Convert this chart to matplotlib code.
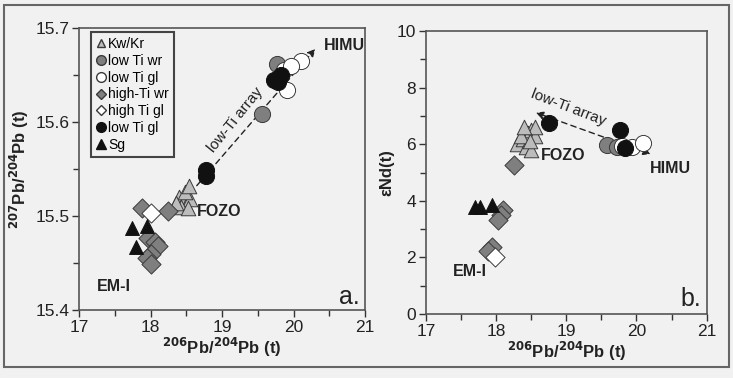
import matplotlib.pyplot as plt
from matplotlib.lines import Line2D
from matplotlib.patches import Rectangle
from matplotlib.ticker import MultipleLocator

plt.rcParams['font.family'] = ['Liberation Sans', 'DejaVu Sans']

BG = '#f1f1f1'
GREY = '#7f7f7f'
LIGHT = '#bcbcbc'
EDGE = '#3a3a3a'

# ---- panel a: 206Pb/204Pb vs 207Pb/204Pb ----
a_sg_x = [17.74, 17.95, 17.79]
a_sg_y = [15.487, 15.489, 15.467]
a_hiwr_x = [17.88, 18.25, 17.97, 18.06, 18.10, 18.01, 17.95, 18.00]
a_hiwr_y = [15.508, 15.505, 15.477, 15.472, 15.468, 15.460, 15.455, 15.449]
a_higl_x = [18.00]
a_higl_y = [15.503]
a_kw_x = [18.40, 18.45, 18.50, 18.55, 18.48, 18.53, 18.42, 18.52, 18.36]
a_kw_y = [15.520, 15.515, 15.512, 15.518, 15.525, 15.532, 15.510, 15.508, 15.514]
a_lowr_x = [19.56, 19.77]
a_lowr_y = [15.609, 15.662]
a_lowgl_x = [19.86, 20.10, 19.91, 19.96]
a_lowgl_y = [15.655, 15.665, 15.634, 15.660]
a_lowbk_x = [18.77, 18.77, 19.72, 19.82, 19.78]
a_lowbk_y = [15.549, 15.543, 15.645, 15.650, 15.643]
a_array_x = [18.62, 20.33]
a_array_y = [15.530, 15.680]

# ---- panel b: 206Pb/204Pb vs eNd ----
b_sg_x = [17.70, 17.77, 17.94]
b_sg_y = [3.80, 3.80, 3.85]
b_hiwr_x = [18.25, 18.10, 18.07, 18.03, 17.94, 17.89]
b_hiwr_y = [5.27, 3.67, 3.50, 3.32, 2.38, 2.24]
b_higl_x = [17.99]
b_higl_y = [2.03]
b_kw_x = [18.30, 18.38, 18.45, 18.50, 18.55, 18.42, 18.50, 18.35, 18.48, 18.55, 18.40]
b_kw_y = [6.00, 6.20, 6.40, 6.50, 6.30, 5.90, 5.80, 6.30, 6.10, 6.60, 6.60]
b_lowr_x = [19.58, 19.72]
b_lowr_y = [5.97, 5.92]
b_lowgl_x = [19.93, 20.10, 19.80]
b_lowgl_y = [5.91, 6.03, 5.95]
b_lowbk_x = [18.75, 19.77, 19.84]
b_lowbk_y = [6.74, 6.50, 5.86]
b_array_x = [18.53, 20.24]
b_array_y = [7.15, 5.62]


def draw_points(ax, sg, hiwr, higl, kw, lowr, lowgl, lowbk):
    ax.scatter(*kw, marker='^', s=110, c=LIGHT, edgecolors=EDGE, linewidths=0.7, zorder=3)
    ax.scatter(*hiwr, marker='D', s=95, c=GREY, edgecolors=EDGE, linewidths=0.7, zorder=3)
    ax.scatter(*higl, marker='D', s=95, c='white', edgecolors=EDGE, linewidths=0.7, zorder=3)
    ax.scatter(*sg, marker='^', s=100, c='#111111', edgecolors='#111111', linewidths=0.7, zorder=3)
    ax.scatter(*lowr, marker='o', s=135, c=GREY, edgecolors=EDGE, linewidths=0.7, zorder=4)
    ax.scatter(*lowgl, marker='o', s=135, c='white', edgecolors=EDGE, linewidths=0.7, zorder=4)
    ax.scatter(*lowbk, marker='o', s=135, c='#111111', edgecolors='#111111', linewidths=0.7, zorder=5)


def style(ax, ymajor, yminor):
    ax.set_facecolor(BG)
    ax.set_xlim(17, 21)
    ax.xaxis.set_major_locator(MultipleLocator(1))
    ax.xaxis.set_minor_locator(MultipleLocator(0.5))
    ax.yaxis.set_major_locator(MultipleLocator(ymajor))
    ax.yaxis.set_minor_locator(MultipleLocator(yminor))
    ax.tick_params(which='both', direction='out', colors='#333333', labelsize=12.5,
                   labelcolor='#222222', pad=2)
    ax.tick_params(which='major', length=5, width=1.0)
    ax.tick_params(which='minor', length=4, width=1.0)
    for sp in ax.spines.values():
        sp.set_color('#555555')
        sp.set_linewidth(1.2)
    ax.set_xlabel('$^{\\mathbf{206}}$Pb/$^{\\mathbf{204}}$Pb (t)', fontsize=12,
                  fontweight='bold', color='#222222', labelpad=1)


fig = plt.figure(figsize=(7.33, 3.78), dpi=100)
fig.patch.set_facecolor(BG)
fig.patches.append(Rectangle((4 / 733, 1 - 367 / 378), 725 / 733, 362 / 378,
                             transform=fig.transFigure, fill=False,
                             edgecolor='#666666', linewidth=1.5))

axa = fig.add_axes([0.108, 0.180, 0.390, 0.746])
axb = fig.add_axes([0.581, 0.169, 0.383, 0.749])

# panel a
style(axa, 0.1, 0.05)
axa.set_ylim(15.4, 15.7)
axa.yaxis.set_major_formatter(plt.FuncFormatter(lambda v, p: f'{v:.1f}'))
draw_points(axa, (a_sg_x, a_sg_y), (a_hiwr_x, a_hiwr_y), (a_higl_x, a_higl_y),
            (a_kw_x, a_kw_y), (a_lowr_x, a_lowr_y), (a_lowgl_x, a_lowgl_y),
            (a_lowbk_x, a_lowbk_y))
axa.annotate('', xy=(a_array_x[1], a_array_y[1]), xytext=(a_array_x[0], a_array_y[0]),
             arrowprops=dict(arrowstyle='-|>', linestyle=(0, (4, 3)), color='#222222',
                             lw=1.0, mutation_scale=11), zorder=2)
axa.text(19.18, 15.602, 'low-Ti array', rotation=51, fontsize=11, ha='center',
         va='center', color='#222222')
axa.text(20.42, 15.681, 'HIMU', fontsize=11.5, fontweight='bold', va='center', color='#222222')
axa.text(18.65, 15.505, 'FOZO', fontsize=11.5, fontweight='bold', va='center', color='#222222')
axa.text(17.25, 15.425, 'EM-I', fontsize=11.5, fontweight='bold', va='center', color='#222222')
axa.text(20.92, 15.414, 'a.', fontsize=18, ha='right', va='center', color='#222222')
axa.set_ylabel('$^{\\mathbf{207}}$Pb/$^{\\mathbf{204}}$Pb (t)', fontsize=12,
               fontweight='bold', color='#222222', labelpad=3)

handles = [
    Line2D([], [], marker='^', ls='', ms=6, mfc=LIGHT, mec=EDGE, label='Kw/Kr'),
    Line2D([], [], marker='o', ls='', ms=7, mfc=GREY, mec=EDGE, label='low Ti wr'),
    Line2D([], [], marker='o', ls='', ms=7, mfc='white', mec=EDGE, label='low Ti gl'),
    Line2D([], [], marker='D', ls='', ms=5, mfc=GREY, mec=EDGE, label='high-Ti wr'),
    Line2D([], [], marker='D', ls='', ms=5, mfc='white', mec=EDGE, label='high Ti gl'),
    Line2D([], [], marker='o', ls='', ms=7, mfc='#111111', mec='#111111', label='low Ti gl'),
    Line2D([], [], marker='^', ls='', ms=7, mfc='#111111', mec='#111111', label='Sg'),
]
leg = axa.legend(handles=handles, loc='upper left', bbox_to_anchor=(0.04, 0.985),
                 fontsize=10, frameon=True, fancybox=False, handlelength=0.8,
                 handletextpad=0.1, labelspacing=0.2, borderpad=0.35,
                 borderaxespad=0.0)
leg.get_frame().set_edgecolor('#444444')
leg.get_frame().set_linewidth(1.5)
leg.get_frame().set_facecolor(BG)
leg.get_frame().set_alpha(1)

# panel b
style(axb, 2, 1)
axb.set_ylim(0, 10)
draw_points(axb, (b_sg_x, b_sg_y), (b_hiwr_x, b_hiwr_y), (b_higl_x, b_higl_y),
            (b_kw_x, b_kw_y), (b_lowr_x, b_lowr_y), (b_lowgl_x, b_lowgl_y),
            (b_lowbk_x, b_lowbk_y))
axb.annotate('', xy=(b_array_x[0], b_array_y[0]), xytext=(b_array_x[1], b_array_y[1]),
             arrowprops=dict(arrowstyle='<|-|>', linestyle=(0, (4, 3)), color='#222222',
                             lw=1.0, mutation_scale=11), zorder=2)
axb.text(19.03, 7.3, 'low-Ti array', rotation=-21, fontsize=11, ha='center',
         va='center', color='#222222')
axb.text(20.48, 5.15, 'HIMU', fontsize=11.5, fontweight='bold', ha='center', va='center',
         color='#222222')
axb.text(18.96, 5.62, 'FOZO', fontsize=11.5, fontweight='bold', ha='center', va='center',
         color='#222222')
axb.text(17.63, 1.5, 'EM-I', fontsize=11.5, fontweight='bold', ha='center', va='center',
         color='#222222')
axb.text(20.92, 0.55, 'b.', fontsize=18, ha='right', va='center', color='#222222')
axb.set_ylabel('\u03b5Nd(t)', fontsize=12, fontweight='bold', color='#222222', labelpad=2)

fig.savefig('out.png', dpi=100, facecolor=BG)
